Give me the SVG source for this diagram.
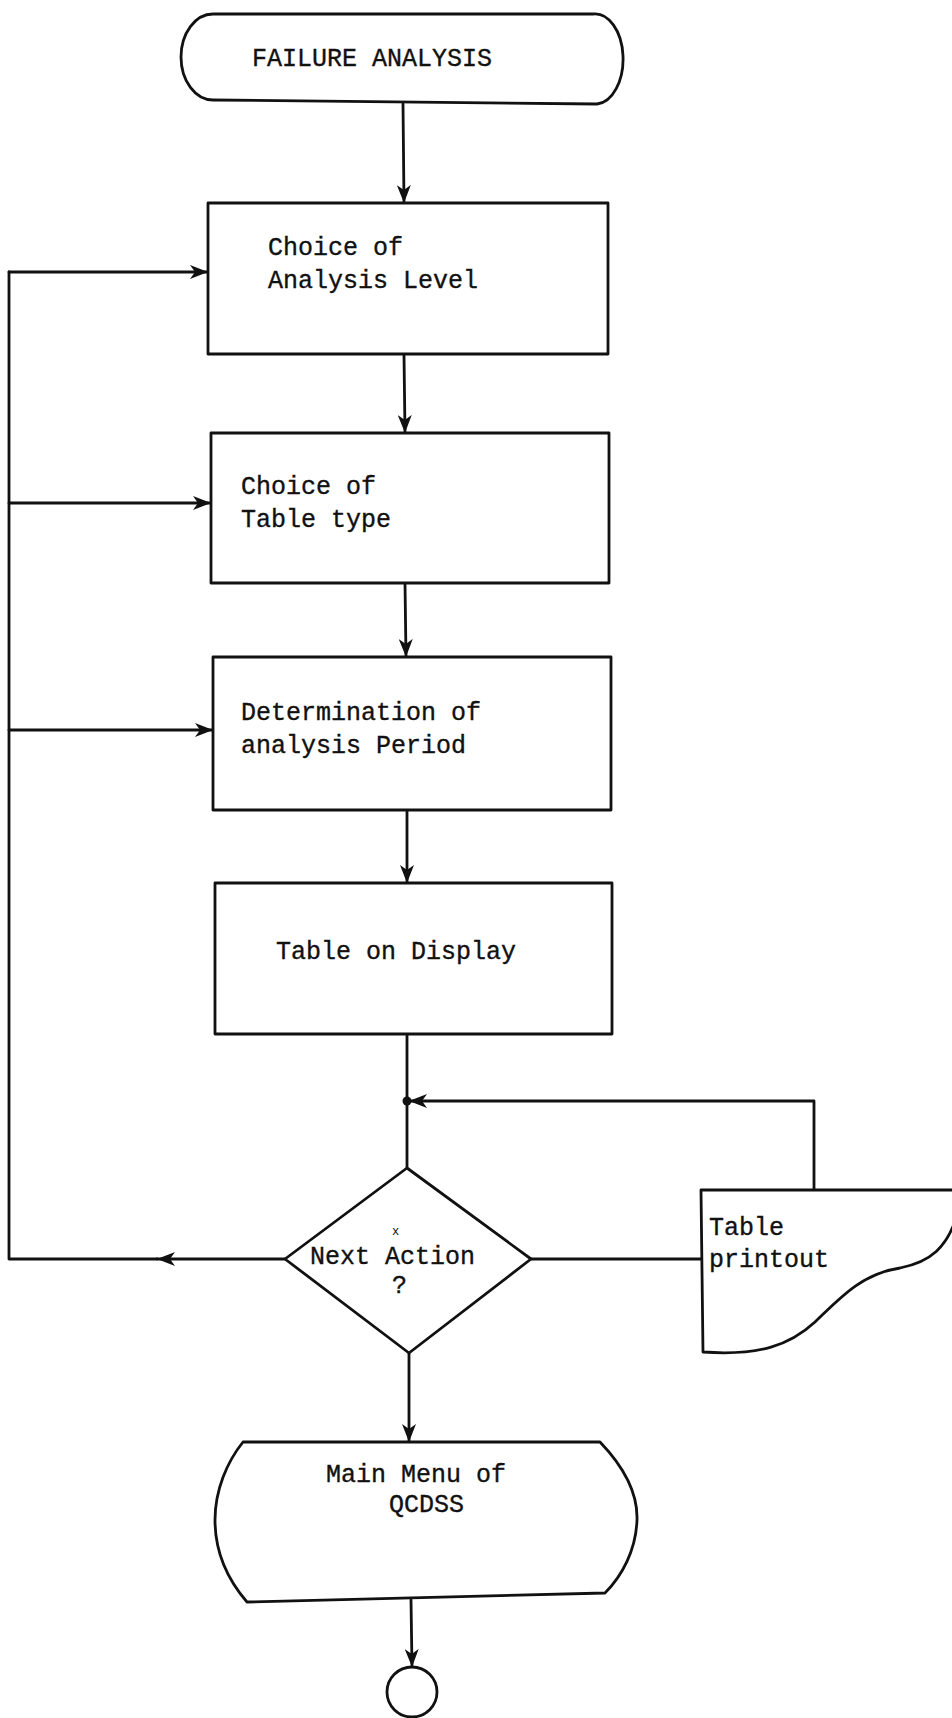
<svg xmlns="http://www.w3.org/2000/svg" width="952" height="1718" viewBox="0 0 952 1718">
<defs>
<style>
.s{fill:none;stroke:#111;stroke-width:2.8;stroke-linejoin:round;stroke-linecap:round}
.n{fill:#fff;stroke:#111;stroke-width:2.8;stroke-linejoin:round}
.t{font-family:"Liberation Mono","DejaVu Sans Mono",monospace;font-size:25px;fill:#111;stroke:#111;stroke-width:0.35}
</style>
<marker id="ah" markerUnits="userSpaceOnUse" markerWidth="20" markerHeight="14" refX="18" refY="7" orient="auto">
<path d="M0,0 L18,7 L0,14 L5,7 Z" fill="#111"/>
</marker>
</defs>
<rect width="952" height="1718" fill="#fff"/>
<g id="connectors">
<line class="s" x1="403" y1="104" x2="404" y2="203" marker-end="url(#ah)"/>
<line class="s" x1="404" y1="355" x2="405" y2="433" marker-end="url(#ah)"/>
<line class="s" x1="405" y1="583" x2="406" y2="657" marker-end="url(#ah)"/>
<line class="s" x1="407" y1="810" x2="407" y2="883" marker-end="url(#ah)"/>
<line class="s" x1="407" y1="1034" x2="407" y2="1168"/>
<path class="s" d="M814,1190 L814,1101 L409,1101" marker-end="url(#ah)"/>
<circle cx="407" cy="1101" r="4.5" fill="#111"/>
<line class="s" x1="531" y1="1259" x2="701" y2="1259"/>
<line class="s" x1="285" y1="1259" x2="157" y2="1259" marker-end="url(#ah)"/>
<path class="s" d="M157,1259 L9,1259 L9,272"/>
<line class="s" x1="9" y1="272" x2="208" y2="272" marker-end="url(#ah)"/>
<line class="s" x1="9" y1="503" x2="211" y2="503" marker-end="url(#ah)"/>
<line class="s" x1="9" y1="730" x2="213" y2="730" marker-end="url(#ah)"/>
<line class="s" x1="409" y1="1353" x2="409" y2="1442" marker-end="url(#ah)"/>
<line class="s" x1="411" y1="1600" x2="412" y2="1667" marker-end="url(#ah)"/>
</g>
<g id="start">
<path class="n" d="M213,14 L593,14 A28 45 0 0 1 597,104 L213,100 A32 43 0 0 1 213,14 Z"/>
<text class="t" x="252" y="66">FAILURE ANALYSIS</text>
</g>
<g id="level">
<rect class="n" x="208" y="203" width="400" height="151"/>
<text class="t" x="268" y="255">Choice of</text>
<text class="t" x="268" y="288">Analysis Level</text>
</g>
<g id="tabletype">
<rect class="n" x="211" y="433" width="398" height="150"/>
<text class="t" x="241" y="494">Choice of</text>
<text class="t" x="241" y="527">Table type</text>
</g>
<g id="period">
<rect class="n" x="213" y="657" width="398" height="153"/>
<text class="t" x="241" y="720">Determination of</text>
<text class="t" x="241" y="753">analysis Period</text>
</g>
<g id="display">
<rect class="n" x="215" y="883" width="397" height="151"/>
<text class="t" x="276" y="959">Table on Display</text>
</g>
<g id="decision">
<path class="n" d="M407,1168 L531,1259 L409,1353 L285,1259 Z"/>
<text class="t" x="310" y="1264">Next Action</text>
<text x="392" y="1235" font-family="Liberation Mono, monospace" font-size="12" fill="#111">x</text>
<text class="t" x="392" y="1293">?</text>
</g>
<g id="printout">
<path class="n" d="M701,1190 L958,1190 L958,1212 C948,1248 930,1262 900,1268 C862,1274 842,1296 815,1322 C790,1345 760,1356 703,1352 Z"/>
<text class="t" x="709" y="1235">Table</text>
<text class="t" x="709" y="1267">printout</text>
</g>
<g id="mainmenu">
<path class="n" d="M243,1442 L600,1442 C622,1465 638,1492 637,1520 C636,1550 622,1576 605,1593 L247,1602 C228,1580 215,1552 215,1520 C215,1490 227,1462 243,1442 Z"/>
<text class="t" x="326" y="1482">Main Menu of</text>
<text class="t" x="389" y="1512">QCDSS</text>
</g>
<g id="end">
<circle class="n" cx="412" cy="1692" r="25"/>
</g>
</svg>
